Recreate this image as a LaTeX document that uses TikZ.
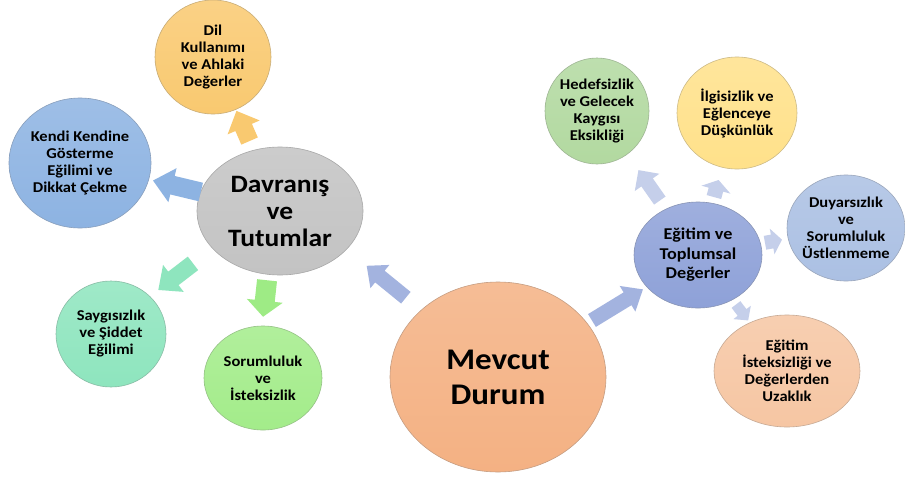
\documentclass[tikz,border=0pt]{standalone}
\usepackage{fontspec}
\usetikzlibrary{shapes.geometric,calc}
\newfontfamily\cf{Carlito}[FakeStretch=1.1]
\definecolor{cMev}{HTML}{F4B183}
\definecolor{cDav}{HTML}{C3C3C3}
\definecolor{cDil}{HTML}{F9C970}
\definecolor{cKen}{HTML}{8DB3E2}
\definecolor{cSay}{HTML}{8EE5BE}
\definecolor{cSor}{HTML}{A3EC8A}
\definecolor{cEgt}{HTML}{8EA1D8}
\definecolor{cHed}{HTML}{B2D9A0}
\definecolor{cIlg}{HTML}{FFE18A}
\definecolor{cDuy}{HTML}{ABC0E3}
\definecolor{cIst}{HTML}{F6C6A3}
\definecolor{aMev}{HTML}{A3B3DF}
\definecolor{aR}{HTML}{C5CFEA}
\definecolor{aDil}{HTML}{F9C970}
\definecolor{aKen}{HTML}{8DB3E2}
\definecolor{aSay}{HTML}{8EE5BE}
\definecolor{aSor}{HTML}{9EEB85}
% block arrow: #1 from, #2 to, #3 gap at from, #4 gap at to, #5 shaft half width, #6 head half width, #7 head length, #8 colour
\newcommand\barrowx[8]{%
  \coordinate (bat) at ($(#1)!#3!(#2)$);
  \coordinate (bae) at ($(#2)!#4!(#1)$);
  \coordinate (bah) at ($(bae)!#7!(bat)$);
  \fill[#8] ($(bat)!#5!90:(bae)$) -- ($(bah)!#5!90:(bae)$) -- ($(bah)!#6!90:(bae)$)
    -- (bae) -- ($(bah)!#6!-90:(bae)$) -- ($(bah)!#5!-90:(bae)$) -- ($(bat)!#5!-90:(bae)$) -- cycle;
}
\tikzset{
  bub/.style={ellipse, draw=#1!60!gray, line width=0.6pt, top color=#1!85!white, bottom color=#1,
    inner sep=-16pt, align=center, text=black, font=\cf\bfseries\fontsize{15}{17}\selectfont},
}
\begin{document}
\begin{tikzpicture}[x=1pt,y=-1pt]
\fill[white] (0,0) rectangle (905,477);
\useasboundingbox (0,0) rectangle (905,477);

% central and main nodes
\node[bub=cMev, minimum width=216pt, minimum height=190pt, font=\cf\bfseries\fontsize{30}{35}\selectfont] (mev) at (498,377) {Mevcut\\Durum};
\node[bub=cDav, minimum width=166pt, minimum height=128pt, font=\cf\bfseries\fontsize{25}{27}\selectfont] (dav) at (280,211) {Davranış\\ve\\Tutumlar};
\node[bub=cEgt, minimum width=128pt, minimum height=106pt, font=\cf\bfseries\fontsize{16.5}{19.5}\selectfont] (egt) at (698,255) {Eğitim ve\\Toplumsal\\Değerler};

% left children
\node[bub=cDil, minimum width=116pt, minimum height=114pt] (dil) at (213,57) {Dil\\Kullanımı\\ve Ahlaki\\Değerler};
\node[bub=cKen, minimum width=142pt, minimum height=130pt] (ken) at (80,163) {Kendi Kendine\\Gösterme\\Eğilimi ve\\Dikkat Çekme};
\node[bub=cSay, minimum width=110pt, minimum height=106pt] (say) at (111,334) {Saygısızlık\\ve Şiddet\\Eğilimi};
\node[bub=cSor, minimum width=118pt, minimum height=104pt] (sor) at (263,378) {Sorumluluk\\ve\\İsteksizlik};

% right children
\node[bub=cHed, minimum width=104pt, minimum height=106pt] (hed) at (597,111) {Hedefsizlik\\ve Gelecek\\Kaygısı\\Eksikliği};
\node[bub=cIlg, minimum width=120pt, minimum height=112pt] (ilg) at (737,113) {İlgisizlik ve\\Eğlenceye\\Düşkünlük};
\node[bub=cDuy, minimum width=118pt, minimum height=106pt] (duy) at (846,228) {Duyarsızlık\\ve\\Sorumluluk\\Üstlenmeme};
\node[bub=cIst, minimum width=146pt, minimum height=112pt] (ist) at (787,371) {Eğitim\\İsteksizliği ve\\Değerlerden\\Uzaklık};

% arrows
\barrowx{mev.139}{dav.330}{19.5pt}{25.8pt}{7.5pt}{15pt}{17pt}{aMev}
\barrowx{mev.31}{egt.212}{5.3pt}{4.4pt}{7.5pt}{15pt}{18pt}{aMev}
\barrowx{dav}{dil}{76.3pt}{58.8pt}{9pt}{17.5pt}{18pt}{aDil}
\barrowx{dav}{ken}{81.5pt}{75.1pt}{9.5pt}{17.5pt}{20pt}{aKen}
\barrowx{dav.209}{say.44}{24.4pt}{10.4pt}{8.5pt}{17pt}{19pt}{aSay}
\barrowx{dav.259}{sor.91}{5.7pt}{9pt}{10pt}{18pt}{16pt}{aSor}
\barrowx{egt}{hed}{66.5pt}{72.2pt}{7pt}{15pt}{15pt}{aR}
\barrowx{egt}{ilg}{60.1pt}{69.5pt}{7.5pt}{15pt}{10pt}{aR}
\barrowx{egt}{duy}{68.1pt}{65.1pt}{7pt}{13pt}{10pt}{aR}
\barrowx{egt}{ist}{62.4pt}{63.8pt}{5.5pt}{11pt}{10pt}{aR}
\end{tikzpicture}
\end{document}
